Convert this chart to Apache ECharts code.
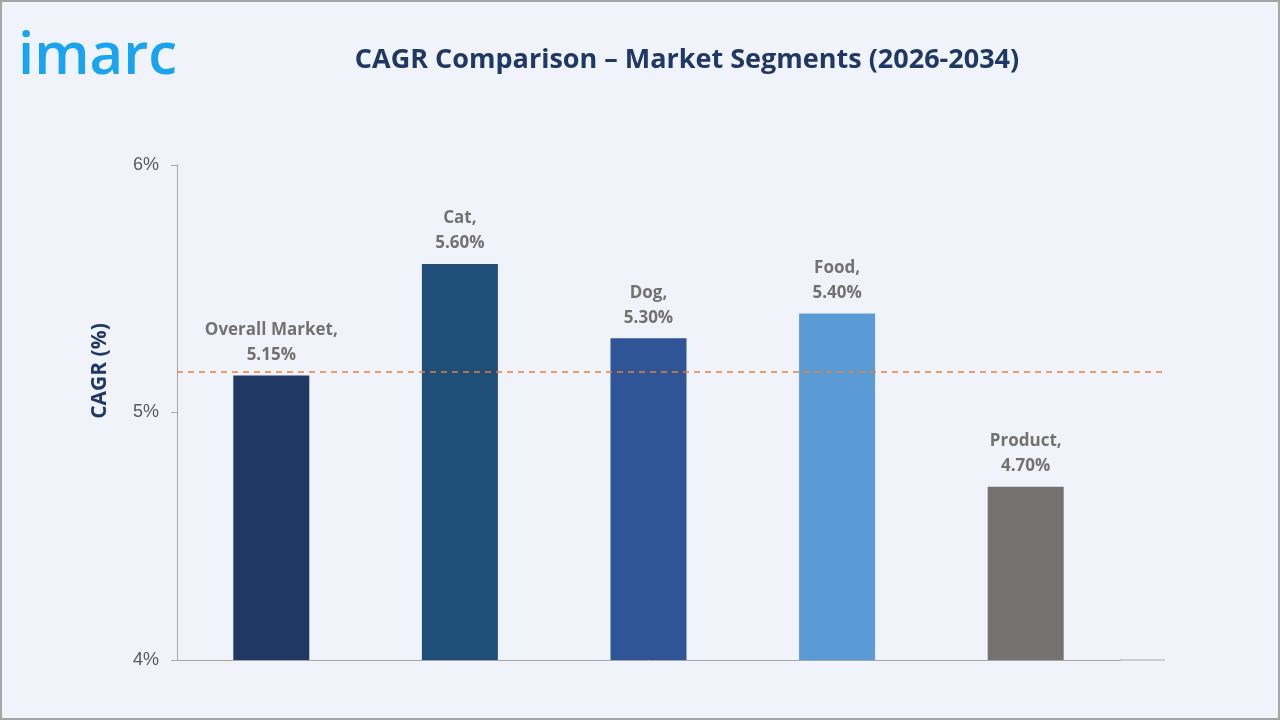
<!DOCTYPE html><html><head><meta charset="utf-8"><script src="https://cdn.jsdelivr.net/npm/echarts@6/dist/echarts.min.js"></script>
<style>body{margin:0;background:#fff}#c{width:1280px;height:720px}</style></head><body><div id="c"></div><script>
const categories=['Overall Market','Cat','Dog','Food','Product'];
const values=[5.15,5.60,5.30,5.40,4.70];
const colors=['#203864','#1f4e79','#2f5597','#5b9bd5','#767171'];
const refValue=5.165;
const yTicks=[4,5,6];
const ch=echarts.init(document.getElementById('c'));
ch.setOption({
backgroundColor:'#f0f4fa',
graphic:[
{type:'rect',shape:{x:1,y:1,width:1278,height:718},style:{fill:'none',stroke:'#a6a6a6',lineWidth:2}},
{type:'text',left:18,top:28,style:{text:'imarc',font:'600 58px "Open Sans", sans-serif',fill:'#1aa3ef'}},
{type:'text',x:100,y:371,rotation:Math.PI/2,style:{text:'CAGR (%)',font:'bold 21px "Open Sans", sans-serif',fill:'#203864',align:'center',verticalAlign:'middle'}},
{type:'line',shape:{x1:1120,y1:660,x2:1165,y2:660},style:{stroke:'#a6a6a6',lineWidth:1}}
],
title:{text:'CAGR Comparison – Market Segments (2026-2034)',left:682,textAlign:'center',top:42,textStyle:{fontFamily:'"Open Sans", sans-serif',fontSize:27,fontWeight:'bold',color:'#203864'}},
grid:{left:177,right:160,top:165,bottom:60},
xAxis:{type:'category',data:categories,axisLine:{lineStyle:{color:'#a6a6a6'}},axisTick:{show:false},axisLabel:{show:false}},
yAxis:{type:'value',min:4,max:6,interval:1,
axisLine:{show:true,lineStyle:{color:'#a6a6a6'}},axisTick:{show:true,length:6,lineStyle:{color:'#a6a6a6'}},splitLine:{show:false},
axisLabel:{formatter:v=>yTicks.includes(v)?v+'%':'',fontSize:18,color:'#595959',margin:18}},
series:[{type:'bar',barWidth:76,data:values.map((v,i)=>({value:v,itemStyle:{color:colors[i]}})),
label:{show:true,position:'top',distance:8,lineHeight:25,fontSize:17,fontWeight:'bold',color:'#767171',fontFamily:'"Open Sans", sans-serif',
formatter:p=>p.name+',\n'+p.value.toFixed(2)+'%'},
markLine:{silent:true,symbol:'none',label:{show:false},lineStyle:{color:'#e8803a',type:[6,5],width:1.5},data:[[{xAxis:categories[0],yAxis:refValue,x:177},{x:1165,yAxis:refValue}]]}}]
});
</script></body></html>
